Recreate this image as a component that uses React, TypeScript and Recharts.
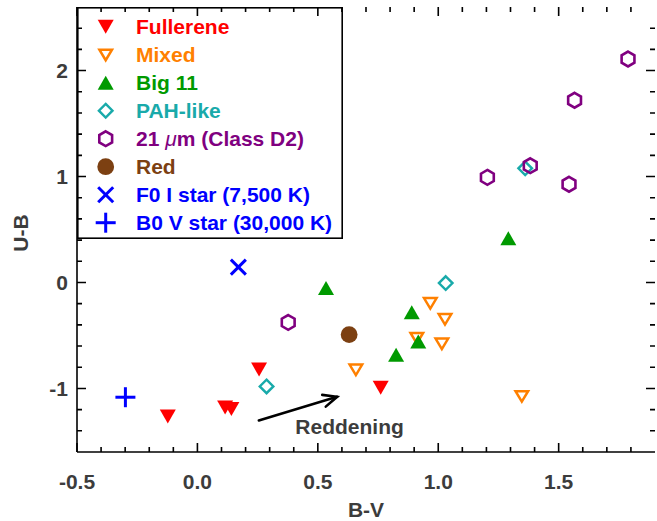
import React from "react";
import {
  ScatterChart,
  Scatter,
  XAxis,
  YAxis,
  ReferenceLine,
  ReferenceDot,
  Legend,
} from "recharts";

// B-V / U-B values
const fullereneBV = [-0.123, 0.115, 0.141, 0.256, 0.761];
const fullereneUB = [-1.264, -1.18, -1.193, -0.822, -0.994];
const mixedBV = [0.658, 0.967, 1.028, 1.015, 0.911, 1.347];
const mixedUB = [-0.822, -0.194, -0.345, -0.577, -0.524, -1.073];
const big11BV = [0.534, 0.825, 0.89, 0.917, 1.291];
const big11UB = [-0.053, -0.681, -0.282, -0.556, 0.418];
const pahBV = [0.287, 1.031, 1.361];
const pahUB = [-0.981, -0.006, 1.077];
const classD2BV = [0.377, 1.204, 1.382, 1.543, 1.566, 1.788];
const classD2UB = [-0.377, 0.992, 1.102, 0.927, 1.72, 2.109];
const redBV = [0.63];
const redUB = [-0.492];
const f0StarBV = [0.17];
const f0StarUB = [0.145];
const b0StarBV = [-0.299];
const b0StarUB = [-1.083];

// reddening vector
const reddeningStart = { x: 0.255, y: -1.302 };
const reddeningEnd = { x: 0.58, y: -1.079 };
const reddeningText = { x: 0.632, y: -1.359, label: "Reddening" };

// axes
const xDomain = [-0.5, 1.9];
const yDomain = [-1.6, 2.6];
const xMinor = [
  -0.4, -0.3, -0.2, -0.1, 0.1, 0.2, 0.3, 0.4, 0.6, 0.7, 0.8, 0.9,
  1.1, 1.2, 1.3, 1.4, 1.6, 1.7, 1.8,
];
const xMajor = [-0.5, 0, 0.5, 1.0, 1.5];
const xMajorLabels = ["-0.5", "0.0", "0.5", "1.0", "1.5"];
const yMinor = [
  -1.4, -1.2, -0.8, -0.6, -0.4, -0.2, 0.2, 0.4, 0.6, 0.8,
  1.2, 1.4, 1.6, 1.8, 2.2, 2.4,
];
const yMajor = [-1, 0, 1, 2];
const yMajorLabels = ["-1", "0", "1", "2"];

const FONT = "'Liberation Sans', Arial, Helvetica, sans-serif";
const FONT_SIZE = 21;
const LABEL_GREY = "#3c3c3c";
const MAJOR_LEN = 9;
const MINOR_LEN = 5;

type Kind = "downFilled" | "downOpen" | "upFilled" | "diamond" | "hexagon" | "circle" | "cross" | "plus";

const series: { name: React.ReactNode; key: string; kind: Kind; color: string; bv: number[]; ub: number[] }[] = [
  { key: "fullerene", name: "Fullerene", kind: "downFilled", color: "#ff0000", bv: fullereneBV, ub: fullereneUB },
  { key: "mixed", name: "Mixed", kind: "downOpen", color: "#ff8000", bv: mixedBV, ub: mixedUB },
  { key: "big11", name: "Big 11", kind: "upFilled", color: "#009a00", bv: big11BV, ub: big11UB },
  { key: "pah", name: "PAH-like", kind: "diamond", color: "#19aaaa", bv: pahBV, ub: pahUB },
  {
    key: "d2",
    name: (
      <>
        21 <tspan fontStyle="italic" fontWeight="normal">μ</tspan>m (Class D2)
      </>
    ),
    kind: "hexagon",
    color: "#800080",
    bv: classD2BV,
    ub: classD2UB,
  },
  { key: "red", name: "Red", kind: "circle", color: "#7c4012", bv: redBV, ub: redUB },
  { key: "f0", name: "F0 I star (7,500 K)", kind: "cross", color: "#0000ff", bv: f0StarBV, ub: f0StarUB },
  { key: "b0", name: "B0 V star (30,000 K)", kind: "plus", color: "#0000ff", bv: b0StarBV, ub: b0StarUB },
];

function Mark({ kind, color, cx, cy }: { kind: Kind; color: string; cx: number; cy: number }) {
  switch (kind) {
    case "downFilled":
      return <polygon points={`${cx - 8},${cy - 7} ${cx + 8},${cy - 7} ${cx},${cy + 7}`} fill={color} />;
    case "downOpen":
      return (
        <polygon
          points={`${cx - 6.3},${cy - 5} ${cx + 6.3},${cy - 5} ${cx},${cy + 5.5}`}
          fill="none"
          stroke={color}
          strokeWidth={2.5}
        />
      );
    case "upFilled":
      return <polygon points={`${cx - 8},${cy + 7} ${cx + 8},${cy + 7} ${cx},${cy - 7}`} fill={color} />;
    case "diamond":
      return (
        <polygon
          points={`${cx},${cy - 6.8} ${cx + 6.8},${cy} ${cx},${cy + 6.8} ${cx - 6.8},${cy}`}
          fill="none"
          stroke={color}
          strokeWidth={2.4}
        />
      );
    case "hexagon": {
      const r = 7.4;
      const h = r * 0.866;
      return (
        <polygon
          points={`${cx},${cy - r} ${cx + h},${cy - r / 2} ${cx + h},${cy + r / 2} ${cx},${cy + r} ${cx - h},${cy + r / 2} ${cx - h},${cy - r / 2}`}
          fill="none"
          stroke={color}
          strokeWidth={2.6}
        />
      );
    }
    case "circle":
      return <circle cx={cx} cy={cy} r={8.4} fill={color} />;
    case "cross":
      return (
        <g stroke={color} strokeWidth={3}>
          <line x1={cx - 7.5} y1={cy - 7.5} x2={cx + 7.5} y2={cy + 7.5} />
          <line x1={cx - 7.5} y1={cy + 7.5} x2={cx + 7.5} y2={cy - 7.5} />
        </g>
      );
    case "plus":
      return (
        <g stroke={color} strokeWidth={3}>
          <line x1={cx - 10} y1={cy} x2={cx + 10} y2={cy} />
          <line x1={cx} y1={cy - 10} x2={cx} y2={cy + 10} />
        </g>
      );
  }
  return null;
}

// inward tick stubs at both ends of a full-height / full-width reference line
// eslint-disable-next-line @typescript-eslint/no-explicit-any
function TickStub(props: any) {
  const { x1, y1, x2, y2, len } = props;
  let d;
  if (Math.abs(x1 - x2) < 0.01) {
    const top = Math.min(y1, y2);
    const bottom = Math.max(y1, y2);
    d = `M${x1},${bottom}L${x1},${bottom - len}M${x1},${top}L${x1},${top + len}`;
  } else {
    const left = Math.min(x1, x2);
    const right = Math.max(x1, x2);
    d = `M${left},${y1}L${left + len},${y1}M${right},${y1}L${right - len},${y1}`;
  }
  return <path d={d} stroke="#000" strokeWidth={1.6} fill="none" />;
}

// eslint-disable-next-line @typescript-eslint/no-explicit-any
function XLabel(props: any) {
  const { x, y, payload } = props;
  const idx = xMajor.findIndex((m) => Math.abs(m - payload.value) < 1e-6);
  return (
    <text x={x} y={Number(y) + 37} textAnchor="middle" fill={LABEL_GREY} fontSize={FONT_SIZE} fontWeight="bold" fontFamily={FONT}>
      {xMajorLabels[idx]}
    </text>
  );
}

// eslint-disable-next-line @typescript-eslint/no-explicit-any
function YLabel(props: any) {
  const { x, y, payload } = props;
  const idx = yMajor.findIndex((m) => Math.abs(m - payload.value) < 1e-6);
  return (
    <text x={Number(x) - 9} y={Number(y) + 7.5} textAnchor="end" fill={LABEL_GREY} fontSize={FONT_SIZE} fontWeight="bold" fontFamily={FONT}>
      {yMajorLabels[idx]}
    </text>
  );
}

function LegendBox() {
  return (
    <svg width={266} height={232} style={{ display: "block" }}>
      <rect x={0.8} y={0.8} width={264.4} height={230.4} fill="none" stroke="#000" strokeWidth={1.6} />
      {series.map((s, i) => {
        const cy = 19.7 + 28 * i;
        return (
          <g key={s.key}>
            <Mark kind={s.kind} color={s.color} cx={28.7} cy={cy} />
            <text x={59} y={cy + 7.5} fill={s.color} fontSize={FONT_SIZE} fontWeight="bold" fontFamily={FONT}>
              {s.name}
            </text>
          </g>
        );
      })}
    </svg>
  );
}

// eslint-disable-next-line @typescript-eslint/no-explicit-any
function ReddeningArrow(props: any) {
  const { x1, y1, x2, y2 } = props;
  const ang = Math.atan2(y2 - y1, x2 - x1);
  const head = 15;
  const spread = 0.42;
  const ax = x2 - head * Math.cos(ang - spread);
  const ay = y2 - head * Math.sin(ang - spread);
  const bx = x2 - head * Math.cos(ang + spread);
  const by = y2 - head * Math.sin(ang + spread);
  return (
    <g stroke="#000" strokeWidth={2.6} fill="none" strokeLinecap="round">
      <line x1={x1} y1={y1} x2={x2} y2={y2} />
      <polyline points={`${ax},${ay} ${x2},${y2} ${bx},${by}`} />
    </g>
  );
}

const axisLineStyle = { stroke: "#000", strokeWidth: 1.6 };

export default function App() {
  return (
    <div style={{ position: "absolute", left: 0, top: 0, width: 657, height: 521, background: "#fff" }}>
      <ScatterChart width={657} height={521} margin={{ top: 7, right: 2, bottom: 0, left: 0 }}>
        <XAxis
          type="number"
          dataKey="x"
          domain={xDomain}
          ticks={xMajor}
          interval={0}
          allowDataOverflow
          height={69}
          tickSize={0}
          tickMargin={0}
          tickLine={false}
          axisLine={axisLineStyle}
          tick={(p: unknown) => <XLabel {...(p as object)} />}
        />
        <XAxis
          xAxisId="top"
          orientation="top"
          type="number"
          domain={xDomain}
          allowDataOverflow
          height={0}
          tick={false}
          tickLine={false}
          axisLine={axisLineStyle}
        />
        <YAxis
          type="number"
          dataKey="y"
          domain={yDomain}
          ticks={yMajor}
          interval={0}
          allowDataOverflow
          width={77}
          tickSize={0}
          tickMargin={0}
          tickLine={false}
          axisLine={axisLineStyle}
          tick={(p: unknown) => <YLabel {...(p as object)} />}
        />
        <YAxis
          yAxisId="right"
          orientation="right"
          type="number"
          domain={yDomain}
          allowDataOverflow
          width={0}
          tick={false}
          tickLine={false}
          axisLine={axisLineStyle}
        />
        {xMinor.map((v) => (
          <ReferenceLine key={`xm${v}`} x={v} shape={(p: unknown) => <TickStub {...(p as object)} len={MINOR_LEN} />} />
        ))}
        {xMajor.map((v) => (
          <ReferenceLine key={`xM${v}`} x={v} shape={(p: unknown) => <TickStub {...(p as object)} len={MAJOR_LEN} />} />
        ))}
        {yMinor.map((v) => (
          <ReferenceLine key={`ym${v}`} y={v} shape={(p: unknown) => <TickStub {...(p as object)} len={MINOR_LEN} />} />
        ))}
        {yMajor.map((v) => (
          <ReferenceLine key={`yM${v}`} y={v} shape={(p: unknown) => <TickStub {...(p as object)} len={MAJOR_LEN} />} />
        ))}
        {series.map((s) => (
          <Scatter
            key={s.key}
            name={s.key}
            data={s.bv.map((x, i) => ({ x, y: s.ub[i] }))}
            fill={s.color}
            isAnimationActive={false}
            // eslint-disable-next-line @typescript-eslint/no-explicit-any
            shape={(p: any) => <Mark kind={s.kind} color={s.color} cx={p.cx} cy={p.cy} />}
          />
        ))}
        <ReferenceLine
          segment={[reddeningStart, reddeningEnd]}
          shape={(p: unknown) => <ReddeningArrow {...(p as object)} />}
        />
        <ReferenceDot
          x={reddeningText.x}
          y={reddeningText.y}
          r={0}
          // eslint-disable-next-line @typescript-eslint/no-explicit-any
          shape={(p: any) => (
            <text
              x={p.cx}
              y={p.cy}
              dy={7.5}
              textAnchor="middle"
              fill={LABEL_GREY}
              fontSize={FONT_SIZE}
              fontWeight="bold"
              fontFamily={FONT}
            >
              {reddeningText.label}
            </text>
          )}
        />
        <Legend
          layout="horizontal"
          verticalAlign="middle"
          align="center"
          wrapperStyle={{ top: 7, left: 77, width: 266, height: 232 }}
          content={() => <LegendBox />}
        />
      </ScatterChart>
      <svg width={657} height={521} style={{ position: "absolute", left: 0, top: 0, pointerEvents: "none" }}>
        <text x={366} y={517} textAnchor="middle" fill={LABEL_GREY} fontSize={FONT_SIZE} fontWeight="bold" fontFamily={FONT}>
          B-V
        </text>
        <text
          transform="translate(28,233) rotate(-90)"
          textAnchor="middle"
          fill={LABEL_GREY}
          fontSize={FONT_SIZE}
          fontWeight="bold"
          fontFamily={FONT}
        >
          U-B
        </text>
      </svg>
    </div>
  );
}
